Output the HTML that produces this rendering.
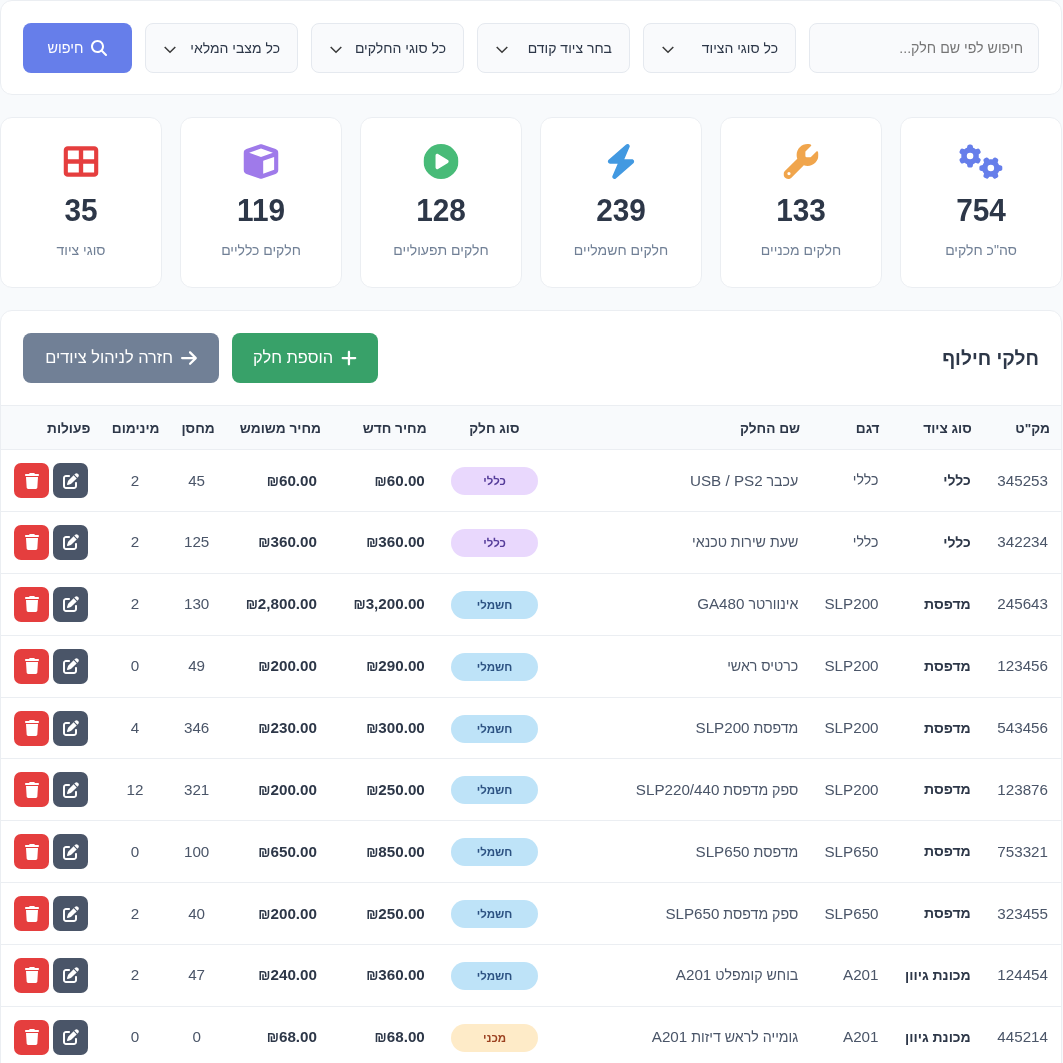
<!DOCTYPE html>
<html lang="he" dir="rtl">
<head>
<meta charset="utf-8">
<title>חלקי חילוף</title>
<style>
*{box-sizing:border-box;margin:0;padding:0}
html,body{width:1063px;height:1063px;overflow:hidden}
body{background:#f8fafc;font-family:"Liberation Sans",sans-serif;color:#2d3748;direction:rtl}
.wrap{width:1062px;position:absolute;left:0;top:0;will-change:transform}
.card{background:#fff;border:1px solid #ebeef2;border-radius:12px}
.filters{height:95px;position:relative}
.filters>*{position:absolute;top:22px;height:50px}
.inp{left:808px;width:230px;border:1px solid #e5e9ef;background:#f9fafc;border-radius:8px;font-size:14.2px;line-height:48px;padding:0 15px;color:#757575;white-space:nowrap}
.sel{width:153px;border:1px solid #e5e9ef;background:#f9fafc;border-radius:8px;font-size:14px;line-height:48px;padding-right:17px;color:#2d3748;white-space:nowrap}
.sel svg{position:absolute;left:18px;top:21.5px}
.s1{left:642px}.s2{left:476px}.s3{left:310px}.s4{left:144px}
.btn-search{left:22px;width:109px;border-radius:8px;background:#667eea;color:#fff;font-weight:normal;font-size:14.4px;display:flex;align-items:center;justify-content:center;gap:8px}
.stats{position:absolute;top:117px;left:0;width:1062px;height:171px}
.stat{position:absolute;top:0;width:162px;height:171px;text-align:center}
.stat .ic{position:absolute;top:26px;left:50%;transform:translateX(-50%);height:35px}
.stat .num{transform:scaleY(1.06);position:absolute;top:72.4px;left:0;right:0;font-weight:bold;font-size:29.8px;line-height:40px;color:#2d3748}
.stat .lbl{position:absolute;top:122px;left:0;right:0;font-size:14px;line-height:20px;color:#718096}
.tcard{position:absolute;top:310px;left:0;width:1062px;height:800px}
.ttl{position:absolute;top:34px;right:22px;font-size:19.2px;font-weight:bold;line-height:28px;color:#2d3748}
.btn{position:absolute;top:22px;height:50px;border-radius:8px;color:#fff;font-weight:normal;font-size:16.4px;display:flex;align-items:center;justify-content:center;gap:8px}
.btn-add{left:231px;width:146px;background:#38a169}
.btn-back{left:22px;width:196px;background:#718096}
table{position:absolute;top:93.5px;left:0;width:1060px;border-collapse:separate;border-spacing:0;table-layout:fixed}
th{height:45.7px;background:#f8fafc;font-size:13.7px;font-weight:bold;color:#2d3748;text-align:right;padding:2px 11px 0;border-top:1px solid #ebeef2;border-bottom:1px solid #ebeef2;white-space:nowrap}
td{height:61.86px;font-size:14.2px;color:#4a5568;text-align:right;padding:0 13px;border-bottom:1px solid #ebeef2;white-space:nowrap}
td.b{font-weight:bold;color:#2d3748;font-size:14px;padding-right:12px}
td.n,td .l{font-size:15.2px}
td.p{font-weight:bold;color:#2d3748;font-size:15.2px}
td.c,th.c{text-align:center}
td.a{padding:0;text-align:center;font-size:0}
.bdg{position:relative;top:.5px;display:inline-block;width:87px;height:28px;line-height:28px;border-radius:14px;text-align:center;font-size:11.5px;font-weight:bold}
.g{background:#e9d8fd;color:#553c9a}
.e{background:#bee3f8;color:#2c5282}
.m{background:#feebc8;color:#9c4221}
.act{display:inline-flex;width:35px;height:35px;border-radius:7px;align-items:center;justify-content:center;vertical-align:middle}
.ed{background:#4a5568}
.del{background:#e53e3e;margin-right:4px}
.c1{width:78px}.c2{width:92px}.c3{width:80px}.c4{width:260px}.c5{width:110px}.c6{width:107px}.c7{width:106px}.c8{width:55px}.c9{width:69px}.c10{width:100px}
.btn span{position:relative;top:-1px}
td.p1{padding-left:0;padding-right:14.5px}
td.p2{padding-left:0;padding-right:15px}
th.hp1{padding-right:12.7px}
th.hnm{padding-right:10.2px}
td.nm{padding-right:12px}
td.md{padding-right:12px}
td.st{padding-right:14.5px;padding-left:11.5px}
td.mn{padding-right:14px;padding-left:12px}
td.bd{padding-right:11.5px;padding-left:14.5px}
td.n,td.p,td.b,td.md,td.nm{padding-bottom:1px}
td.p .s{font-size:13.8px}
</style>
</head>
<body>
<div class="wrap">
<div class="card filters">
<div class="inp">חיפוש לפי שם חלק...</div>
<div class="sel s1">כל סוגי הציוד<svg width="12" height="8" viewBox="0 0 12 8"><path d="M0.7 1 L6 6.3 L11.3 1" fill="none" stroke="#3a3a3a" stroke-width="1.5"/></svg></div>
<div class="sel s2">בחר ציוד קודם<svg width="12" height="8" viewBox="0 0 12 8"><path d="M0.7 1 L6 6.3 L11.3 1" fill="none" stroke="#3a3a3a" stroke-width="1.5"/></svg></div>
<div class="sel s3">כל סוגי החלקים<svg width="12" height="8" viewBox="0 0 12 8"><path d="M0.7 1 L6 6.3 L11.3 1" fill="none" stroke="#3a3a3a" stroke-width="1.5"/></svg></div>
<div class="sel s4">כל מצבי המלאי<svg width="12" height="8" viewBox="0 0 12 8"><path d="M0.7 1 L6 6.3 L11.3 1" fill="none" stroke="#3a3a3a" stroke-width="1.5"/></svg></div>
<div class="btn-search"><svg width="16" height="16" viewBox="0 0 512 512"><path fill="#fff" d="M416 208c0 45.900-14.900 88.300-40 122.700L502.600 457.400c12.500 12.500 12.500 32.800 0 45.300s-32.800 12.500-45.300 0L330.700 376c-34.400 25.200-76.800 40-122.700 40C93.100 416 0 322.900 0 208S93.100 0 208 0S416 93.100 416 208zM208 352a144 144 0 1 0 0-288 144 144 0 1 0 0 288z"/></svg><span>חיפוש</span></div>
</div>
<div class="stats">
<div class="card stat" style="left:900px"><svg viewBox="0 0 640 512" class="ic ic-gears"><path fill="#667eea" d="M308.500 135.300c7.100-6.300 9.900-16.200 6.200-25c-2.300-5.300-4.800-10.500-7.600-15.500L304 89.400c-3-5-6.300-9.900-9.800-14.600c-5.700-7.600-15.700-10.100-24.700-7.100l-28.200 9.300c-10.700-8.800-23-16-36.200-20.900L199 27.100c-1.900-9.300-9.100-16.700-18.500-17.800C173.900 8.400 167.200 8 160.400 8h-.7c-6.800 0-13.500 .4-20.100 1.200c-9.400 1.100-16.600 8.600-18.500 17.800L115 56.100c-13.300 5-25.500 12.100-36.200 20.900L50.500 67.800c-9-3-19-.5-24.700 7.100c-3.500 4.700-6.800 9.600-9.900 14.600l-3 5.300c-2.800 5-5.300 10.200-7.600 15.600c-3.700 8.700-.9 18.600 6.200 25l22.200 19.800C32.600 161.900 32 168.900 32 176s.6 14.100 1.700 20.900L11.500 216.700c-7.100 6.300-9.900 16.200-6.200 25c2.300 5.300 4.800 10.500 7.600 15.600l3 5.200c3 5.100 6.300 9.900 9.900 14.600c5.700 7.600 15.700 10.100 24.700 7.100l28.200-9.300c10.700 8.800 23 16 36.200 20.900l6.100 29.100c1.900 9.300 9.100 16.700 18.500 17.800c6.700 .8 13.500 1.200 20.400 1.200s13.700-.4 20.400-1.200c9.400-1.100 16.600-8.600 18.500-17.800l6.100-29.100c13.300-5 25.500-12.100 36.200-20.900l28.200 9.300c9 3 19 .5 24.700-7.100c3.500-4.700 6.800-9.500 9.800-14.600l3.100-5.400c2.800-5 5.300-10.200 7.600-15.500c3.700-8.700 .9-18.600-6.200-25l-22.200-19.800c1.100-6.800 1.700-13.800 1.700-20.900s-.6-14.100-1.700-20.900l22.200-19.800zM112 176a48 48 0 1 1 96 0 48 48 0 1 1 -96 0zM504.700 500.500c6.300 7.100 16.200 9.900 25 6.200c5.300-2.300 10.500-4.800 15.500-7.600l5.400-3.100c5-3 9.900-6.300 14.600-9.800c7.600-5.700 10.100-15.700 7.100-24.700l-9.300-28.200c8.800-10.700 16-23 20.900-36.200l29.100-6.100c9.300-1.900 16.700-9.100 17.800-18.500c.8-6.700 1.200-13.500 1.200-20.400s-.4-13.700-1.200-20.400c-1.100-9.400-8.600-16.600-17.800-18.500L583.900 307c-5-13.300-12.100-25.500-20.900-36.200l9.300-28.200c3-9 .5-19-7.100-24.700c-4.700-3.500-9.600-6.800-14.600-9.900l-5.300-3c-5-2.800-10.200-5.300-15.600-7.600c-8.700-3.700-18.600-.9-25 6.200l-19.800 22.200c-6.800-1.100-13.800-1.700-20.900-1.700s-14.100 .6-20.900 1.700l-19.800-22.200c-6.300-7.100-16.200-9.900-25-6.200c-5.300 2.300-10.500 4.800-15.600 7.600l-5.200 3c-5.100 3-9.900 6.300-14.600 9.900c-7.600 5.700-10.100 15.700-7.100 24.700l9.300 28.200c-8.800 10.700-16 23-20.900 36.200L315.100 313c-9.300 1.900-16.700 9.100-17.800 18.500c-.8 6.700-1.200 13.500-1.200 20.400s.4 13.700 1.200 20.400c1.100 9.400 8.600 16.600 17.800 18.500l29.100 6.100c5 13.300 12.100 25.500 20.900 36.200l-9.300 28.200c-3 9-.5 19 7.100 24.700c4.700 3.500 9.500 6.800 14.600 9.800l5.400 3.100c5 2.800 10.200 5.300 15.500 7.600c8.700 3.700 18.600 .9 25-6.200l19.800-22.200c6.800 1.100 13.800 1.700 20.900 1.700s14.100-.6 20.900-1.700l19.800 22.200zM464 304a48 48 0 1 1 0 96 48 48 0 1 1 0-96z"/></svg><div class="num">754</div><div class="lbl">סה"כ חלקים</div></div>
<div class="card stat" style="left:720px"><svg viewBox="0 0 512 512" class="ic ic-wrench"><path fill="#f0a54c" d="M352 320c88.400 0 160-71.600 160-160c0-15.300-2.200-30.100-6.200-44.200c-3.100-10.800-16.400-13.200-24.300-5.300l-76.800 76.800c-3 3-7.100 4.700-11.300 4.700H336c-8.800 0-16-7.200-16-16V118.600c0-4.200 1.700-8.300 4.700-11.300l76.800-76.800c7.900-7.900 5.400-21.200-5.300-24.300C382.100 2.200 367.300 0 352 0C263.600 0 192 71.600 192 160c0 19.100 3.400 37.500 9.500 54.500L19.900 396.100C7.200 408.800 0 426.100 0 444.100C0 481.600 30.400 512 67.900 512c18 0 35.300-7.200 48-19.900L297.500 310.500c17 6.200 35.400 9.500 54.500 9.500zM80 408a24 24 0 1 1 0 48 24 24 0 1 1 0-48z"/></svg><div class="num">133</div><div class="lbl">חלקים מכניים</div></div>
<div class="card stat" style="left:540px"><svg viewBox="0 0 448 512" class="ic ic-bolt"><path fill="#4299e1" d="M349.400 44.600c5.900-13.700 1.500-29.700-10.600-38.500s-28.600-8-39.900 1.800l-256 224c-10 8.800-13.600 22.900-8.900 35.300S50.700 288 64 288H175.500L98.600 467.400c-5.900 13.700-1.500 29.700 10.600 38.500s28.600 8 39.900-1.800l256-224c10-8.800 13.600-22.900 8.900-35.300s-16.600-20.700-30-20.700H272.500L349.400 44.600z"/></svg><div class="num">239</div><div class="lbl">חלקים חשמליים</div></div>
<div class="card stat" style="left:360px"><svg viewBox="0 0 512 512" class="ic ic-play"><path fill="#48bb78" d="M0 256a256 256 0 1 1 512 0A256 256 0 1 1 0 256zM188.300 147.100c-7.600 4.200-12.300 12.300-12.300 20.900V344c0 8.700 4.700 16.700 12.300 20.900s16.800 4.100 24.300-.5l144-88c7.100-4.400 11.500-12.100 11.500-20.500s-4.400-16.100-11.500-20.500l-144-88c-7.400-4.500-16.700-4.700-24.300-.5z"/></svg><div class="num">128</div><div class="lbl">חלקים תפעוליים</div></div>
<div class="card stat" style="left:180px"><svg viewBox="0 0 512 512" class="ic ic-cube"><path fill="#9f7aea" d="M234.500 5.700c13.900-5 29.100-5 43.100 0l192 68.600C495 83.400 512 107.500 512 134.600V377.400c0 27-17 51.200-42.500 60.300l-192 68.600c-13.900 5-29.100 5-43.100 0l-192-68.600C17 428.600 0 404.500 0 377.400V134.600c0-27 17-51.200 42.500-60.300l192-68.600zM256 66L82.300 128 256 190l173.700-62L256 66zm32 368.600l160-57.100v-188L288 246.600v188z"/></svg><div class="num">119</div><div class="lbl">חלקים כלליים</div></div>
<div class="card stat" style="left:0px"><svg viewBox="0 0 512 512" class="ic ic-table"><path fill="#e53e3e" d="M448 96V224H288V96H448zm0 192V416H288V288H448zM224 224H64V96H224V224zM64 288H224V416H64V288zM64 32C28.700 32 0 60.700 0 96V416c0 35.300 28.700 64 64 64H448c35.300 0 64-28.700 64-64V96c0-35.300-28.700-64-64-64H64z"/></svg><div class="num">35</div><div class="lbl">סוגי ציוד</div></div>
</div>
<div class="card tcard">
<div class="ttl">חלקי חילוף</div>
<div class="btn btn-add"><svg width="15.9" height="18.2" viewBox="0 0 448 512"><path fill="#fff" d="M256 80c0-17.700-14.300-32-32-32s-32 14.300-32 32V224H48c-17.700 0-32 14.300-32 32s14.300 32 32 32H192V432c0 17.700 14.300 32 32 32s32-14.300 32-32V288H400c17.700 0 32-14.300 32-32s-14.300-32-32-32H256V80z"/></svg><span>הוספת חלק</span></div>
<div class="btn btn-back"><svg width="15.9" height="18.2" viewBox="0 0 448 512"><path fill="#fff" d="M438.600 278.600c12.500-12.500 12.500-32.800 0-45.300l-160-160c-12.500-12.500-32.800-12.500-45.300 0s-12.500 32.800 0 45.300L338.800 224 32 224c-17.700 0-32 14.300-32 32s14.300 32 32 32l306.700 0L233.400 393.400c-12.500 12.500-12.500 32.800 0 45.300s32.800 12.500 45.300 0l160-160z"/></svg><span>חזרה לניהול ציודים</span></div>
<table>
<colgroup><col class="c1"><col class="c2"><col class="c3"><col class="c4"><col class="c5"><col class="c6"><col class="c7"><col class="c8"><col class="c9"><col class="c10"></colgroup>
<thead><tr><th>מק"ט</th><th>סוג ציוד</th><th>דגם</th><th class="hnm">שם החלק</th><th class="c">סוג חלק</th><th class="hp1">מחיר חדש</th><th>מחיר משומש</th><th class="c">מחסן</th><th class="c">מינימום</th><th>פעולות</th></tr></thead>
<tbody>
<tr><td class="n">345253</td><td class="b">כללי</td><td class="md">כללי</td><td class="nm">עכבר <span class="l">USB / PS2</span></td><td class="c bd"><span class="bdg g">כללי</span></td><td class="p p1"><span class="s">₪</span>60.00</td><td class="p p2"><span class="s">₪</span>60.00</td><td class="c n st">45</td><td class="c n mn">2</td><td class="a"><span class="act ed"><svg width="16" height="16" viewBox="0 0 512 512"><path fill="#fff" d="M471.600 21.700c-21.900-21.900-57.300-21.900-79.200 0L362.300 51.700l97.900 97.900 30.100-30.100c21.900-21.900 21.900-57.300 0-79.200L471.600 21.700zm-299.200 220c-6.100 6.100-10.800 13.600-13.500 21.900l-29.600 88.800c-2.900 8.600-.6 18.100 5.800 24.600s15.900 8.700 24.600 5.800l88.800-29.600c8.200-2.700 15.700-7.400 21.900-13.500L437.700 172.300 339.700 74.300 172.400 241.700zM96 64C43 64 0 107 0 160V416c0 53 43 96 96 96H352c53 0 96-43 96-96V320c0-17.700-14.300-32-32-32s-32 14.300-32 32v96c0 17.700-14.300 32-32 32H96c-17.700 0-32-14.300-32-32V160c0-17.700 14.300-32 32-32h96c17.700 0 32-14.300 32-32s-14.300-32-32-32H96z"/></svg></span><span class="act del"><svg width="14" height="16" viewBox="0 0 448 512"><path fill="#fff" d="M135.200 17.700L128 32H32C14.300 32 0 46.300 0 64S14.300 96 32 96H416c17.700 0 32-14.300 32-32s-14.300-32-32-32H320l-7.200-14.300C307.400 6.800 296.300 0 284.200 0H163.800c-12.100 0-23.200 6.800-28.600 17.700zM416 128H32L53.200 467c1.600 25.300 22.600 45 47.900 45H346.900c25.300 0 46.300-19.700 47.900-45L416 128z"/></svg></span></td></tr>
<tr><td class="n">342234</td><td class="b">כללי</td><td class="md">כללי</td><td class="nm">שעת שירות טכנאי</td><td class="c bd"><span class="bdg g">כללי</span></td><td class="p p1"><span class="s">₪</span>360.00</td><td class="p p2"><span class="s">₪</span>360.00</td><td class="c n st">125</td><td class="c n mn">2</td><td class="a"><span class="act ed"><svg width="16" height="16" viewBox="0 0 512 512"><path fill="#fff" d="M471.600 21.700c-21.900-21.900-57.300-21.900-79.200 0L362.300 51.700l97.900 97.900 30.100-30.100c21.900-21.900 21.900-57.300 0-79.200L471.600 21.700zm-299.200 220c-6.100 6.100-10.800 13.600-13.500 21.900l-29.600 88.800c-2.900 8.600-.6 18.100 5.800 24.600s15.900 8.700 24.600 5.800l88.800-29.600c8.200-2.700 15.700-7.400 21.900-13.500L437.700 172.300 339.700 74.300 172.400 241.700zM96 64C43 64 0 107 0 160V416c0 53 43 96 96 96H352c53 0 96-43 96-96V320c0-17.700-14.300-32-32-32s-32 14.300-32 32v96c0 17.700-14.300 32-32 32H96c-17.700 0-32-14.300-32-32V160c0-17.700 14.300-32 32-32h96c17.700 0 32-14.300 32-32s-14.300-32-32-32H96z"/></svg></span><span class="act del"><svg width="14" height="16" viewBox="0 0 448 512"><path fill="#fff" d="M135.200 17.700L128 32H32C14.300 32 0 46.300 0 64S14.300 96 32 96H416c17.700 0 32-14.300 32-32s-14.300-32-32-32H320l-7.200-14.300C307.400 6.800 296.300 0 284.200 0H163.800c-12.100 0-23.200 6.800-28.600 17.700zM416 128H32L53.200 467c1.600 25.300 22.600 45 47.900 45H346.900c25.300 0 46.300-19.700 47.900-45L416 128z"/></svg></span></td></tr>
<tr><td class="n">245643</td><td class="b">מדפסת</td><td class="md"><span class="l">SLP200</span></td><td class="nm">אינוורטר <span class="l">GA480</span></td><td class="c bd"><span class="bdg e">חשמלי</span></td><td class="p p1"><span class="s">₪</span>3,200.00</td><td class="p p2"><span class="s">₪</span>2,800.00</td><td class="c n st">130</td><td class="c n mn">2</td><td class="a"><span class="act ed"><svg width="16" height="16" viewBox="0 0 512 512"><path fill="#fff" d="M471.600 21.700c-21.900-21.900-57.300-21.900-79.200 0L362.300 51.700l97.900 97.900 30.100-30.100c21.900-21.900 21.900-57.300 0-79.200L471.600 21.700zm-299.200 220c-6.100 6.100-10.800 13.600-13.500 21.900l-29.600 88.800c-2.900 8.600-.6 18.100 5.800 24.600s15.900 8.700 24.600 5.800l88.800-29.600c8.200-2.700 15.700-7.400 21.900-13.500L437.700 172.300 339.700 74.300 172.400 241.700zM96 64C43 64 0 107 0 160V416c0 53 43 96 96 96H352c53 0 96-43 96-96V320c0-17.700-14.300-32-32-32s-32 14.300-32 32v96c0 17.700-14.300 32-32 32H96c-17.700 0-32-14.300-32-32V160c0-17.700 14.300-32 32-32h96c17.700 0 32-14.300 32-32s-14.300-32-32-32H96z"/></svg></span><span class="act del"><svg width="14" height="16" viewBox="0 0 448 512"><path fill="#fff" d="M135.200 17.700L128 32H32C14.300 32 0 46.300 0 64S14.300 96 32 96H416c17.700 0 32-14.300 32-32s-14.300-32-32-32H320l-7.200-14.300C307.400 6.800 296.300 0 284.200 0H163.800c-12.100 0-23.200 6.800-28.600 17.700zM416 128H32L53.200 467c1.600 25.300 22.600 45 47.900 45H346.900c25.300 0 46.300-19.700 47.900-45L416 128z"/></svg></span></td></tr>
<tr><td class="n">123456</td><td class="b">מדפסת</td><td class="md"><span class="l">SLP200</span></td><td class="nm">כרטיס ראשי</td><td class="c bd"><span class="bdg e">חשמלי</span></td><td class="p p1"><span class="s">₪</span>290.00</td><td class="p p2"><span class="s">₪</span>200.00</td><td class="c n st">49</td><td class="c n mn">0</td><td class="a"><span class="act ed"><svg width="16" height="16" viewBox="0 0 512 512"><path fill="#fff" d="M471.600 21.700c-21.900-21.900-57.300-21.900-79.200 0L362.300 51.700l97.900 97.900 30.100-30.100c21.900-21.900 21.900-57.300 0-79.200L471.600 21.700zm-299.200 220c-6.100 6.100-10.800 13.600-13.500 21.900l-29.600 88.800c-2.900 8.600-.6 18.100 5.800 24.600s15.900 8.700 24.600 5.800l88.800-29.600c8.200-2.700 15.700-7.400 21.900-13.500L437.700 172.300 339.700 74.300 172.400 241.700zM96 64C43 64 0 107 0 160V416c0 53 43 96 96 96H352c53 0 96-43 96-96V320c0-17.700-14.300-32-32-32s-32 14.300-32 32v96c0 17.700-14.300 32-32 32H96c-17.700 0-32-14.300-32-32V160c0-17.700 14.300-32 32-32h96c17.700 0 32-14.300 32-32s-14.300-32-32-32H96z"/></svg></span><span class="act del"><svg width="14" height="16" viewBox="0 0 448 512"><path fill="#fff" d="M135.200 17.700L128 32H32C14.300 32 0 46.300 0 64S14.300 96 32 96H416c17.700 0 32-14.300 32-32s-14.300-32-32-32H320l-7.200-14.300C307.400 6.800 296.300 0 284.200 0H163.800c-12.100 0-23.200 6.800-28.600 17.700zM416 128H32L53.200 467c1.600 25.300 22.600 45 47.900 45H346.900c25.300 0 46.300-19.700 47.900-45L416 128z"/></svg></span></td></tr>
<tr><td class="n">543456</td><td class="b">מדפסת</td><td class="md"><span class="l">SLP200</span></td><td class="nm">מדפסת <span class="l">SLP200</span></td><td class="c bd"><span class="bdg e">חשמלי</span></td><td class="p p1"><span class="s">₪</span>300.00</td><td class="p p2"><span class="s">₪</span>230.00</td><td class="c n st">346</td><td class="c n mn">4</td><td class="a"><span class="act ed"><svg width="16" height="16" viewBox="0 0 512 512"><path fill="#fff" d="M471.600 21.700c-21.900-21.900-57.300-21.900-79.200 0L362.300 51.700l97.900 97.900 30.100-30.100c21.900-21.900 21.900-57.300 0-79.200L471.600 21.700zm-299.200 220c-6.100 6.100-10.800 13.600-13.500 21.900l-29.600 88.800c-2.900 8.600-.6 18.100 5.800 24.600s15.900 8.700 24.600 5.800l88.800-29.600c8.200-2.700 15.700-7.400 21.900-13.500L437.700 172.300 339.700 74.300 172.400 241.700zM96 64C43 64 0 107 0 160V416c0 53 43 96 96 96H352c53 0 96-43 96-96V320c0-17.700-14.300-32-32-32s-32 14.300-32 32v96c0 17.700-14.300 32-32 32H96c-17.700 0-32-14.300-32-32V160c0-17.700 14.300-32 32-32h96c17.700 0 32-14.300 32-32s-14.300-32-32-32H96z"/></svg></span><span class="act del"><svg width="14" height="16" viewBox="0 0 448 512"><path fill="#fff" d="M135.200 17.700L128 32H32C14.300 32 0 46.300 0 64S14.300 96 32 96H416c17.700 0 32-14.300 32-32s-14.300-32-32-32H320l-7.200-14.300C307.400 6.800 296.300 0 284.200 0H163.800c-12.100 0-23.200 6.800-28.600 17.700zM416 128H32L53.200 467c1.600 25.300 22.600 45 47.900 45H346.900c25.300 0 46.300-19.700 47.900-45L416 128z"/></svg></span></td></tr>
<tr><td class="n">123876</td><td class="b">מדפסת</td><td class="md"><span class="l">SLP200</span></td><td class="nm">ספק מדפסת <span class="l">SLP220/440</span></td><td class="c bd"><span class="bdg e">חשמלי</span></td><td class="p p1"><span class="s">₪</span>250.00</td><td class="p p2"><span class="s">₪</span>200.00</td><td class="c n st">321</td><td class="c n mn">12</td><td class="a"><span class="act ed"><svg width="16" height="16" viewBox="0 0 512 512"><path fill="#fff" d="M471.600 21.700c-21.900-21.900-57.300-21.900-79.200 0L362.300 51.700l97.900 97.900 30.100-30.100c21.900-21.900 21.900-57.300 0-79.200L471.600 21.700zm-299.200 220c-6.100 6.100-10.800 13.600-13.500 21.900l-29.600 88.800c-2.900 8.600-.6 18.100 5.800 24.600s15.900 8.700 24.600 5.800l88.800-29.600c8.200-2.700 15.700-7.400 21.900-13.500L437.700 172.300 339.700 74.300 172.400 241.700zM96 64C43 64 0 107 0 160V416c0 53 43 96 96 96H352c53 0 96-43 96-96V320c0-17.700-14.300-32-32-32s-32 14.300-32 32v96c0 17.700-14.300 32-32 32H96c-17.700 0-32-14.300-32-32V160c0-17.700 14.300-32 32-32h96c17.700 0 32-14.300 32-32s-14.300-32-32-32H96z"/></svg></span><span class="act del"><svg width="14" height="16" viewBox="0 0 448 512"><path fill="#fff" d="M135.200 17.700L128 32H32C14.300 32 0 46.300 0 64S14.300 96 32 96H416c17.700 0 32-14.300 32-32s-14.300-32-32-32H320l-7.200-14.300C307.400 6.800 296.300 0 284.200 0H163.800c-12.100 0-23.200 6.800-28.600 17.700zM416 128H32L53.200 467c1.600 25.300 22.600 45 47.900 45H346.900c25.300 0 46.300-19.700 47.900-45L416 128z"/></svg></span></td></tr>
<tr><td class="n">753321</td><td class="b">מדפסת</td><td class="md"><span class="l">SLP650</span></td><td class="nm">מדפסת <span class="l">SLP650</span></td><td class="c bd"><span class="bdg e">חשמלי</span></td><td class="p p1"><span class="s">₪</span>850.00</td><td class="p p2"><span class="s">₪</span>650.00</td><td class="c n st">100</td><td class="c n mn">0</td><td class="a"><span class="act ed"><svg width="16" height="16" viewBox="0 0 512 512"><path fill="#fff" d="M471.600 21.700c-21.900-21.900-57.300-21.900-79.200 0L362.300 51.700l97.900 97.900 30.100-30.100c21.900-21.900 21.900-57.300 0-79.200L471.600 21.700zm-299.200 220c-6.100 6.100-10.800 13.600-13.500 21.900l-29.600 88.800c-2.900 8.600-.6 18.100 5.800 24.600s15.900 8.700 24.600 5.800l88.800-29.600c8.200-2.700 15.700-7.400 21.900-13.500L437.700 172.300 339.700 74.300 172.400 241.700zM96 64C43 64 0 107 0 160V416c0 53 43 96 96 96H352c53 0 96-43 96-96V320c0-17.700-14.300-32-32-32s-32 14.300-32 32v96c0 17.700-14.300 32-32 32H96c-17.700 0-32-14.300-32-32V160c0-17.700 14.300-32 32-32h96c17.700 0 32-14.300 32-32s-14.300-32-32-32H96z"/></svg></span><span class="act del"><svg width="14" height="16" viewBox="0 0 448 512"><path fill="#fff" d="M135.200 17.700L128 32H32C14.300 32 0 46.300 0 64S14.300 96 32 96H416c17.700 0 32-14.300 32-32s-14.300-32-32-32H320l-7.200-14.300C307.400 6.800 296.300 0 284.200 0H163.800c-12.100 0-23.200 6.800-28.600 17.700zM416 128H32L53.200 467c1.600 25.300 22.600 45 47.900 45H346.900c25.300 0 46.300-19.700 47.900-45L416 128z"/></svg></span></td></tr>
<tr><td class="n">323455</td><td class="b">מדפסת</td><td class="md"><span class="l">SLP650</span></td><td class="nm">ספק מדפסת <span class="l">SLP650</span></td><td class="c bd"><span class="bdg e">חשמלי</span></td><td class="p p1"><span class="s">₪</span>250.00</td><td class="p p2"><span class="s">₪</span>200.00</td><td class="c n st">40</td><td class="c n mn">2</td><td class="a"><span class="act ed"><svg width="16" height="16" viewBox="0 0 512 512"><path fill="#fff" d="M471.600 21.700c-21.900-21.900-57.300-21.900-79.200 0L362.300 51.700l97.900 97.900 30.100-30.100c21.900-21.900 21.900-57.300 0-79.200L471.600 21.700zm-299.200 220c-6.100 6.100-10.800 13.600-13.500 21.900l-29.600 88.800c-2.900 8.600-.6 18.100 5.800 24.600s15.900 8.700 24.600 5.800l88.800-29.600c8.200-2.700 15.700-7.400 21.900-13.500L437.700 172.300 339.700 74.300 172.400 241.700zM96 64C43 64 0 107 0 160V416c0 53 43 96 96 96H352c53 0 96-43 96-96V320c0-17.700-14.300-32-32-32s-32 14.300-32 32v96c0 17.700-14.300 32-32 32H96c-17.700 0-32-14.300-32-32V160c0-17.700 14.300-32 32-32h96c17.700 0 32-14.300 32-32s-14.300-32-32-32H96z"/></svg></span><span class="act del"><svg width="14" height="16" viewBox="0 0 448 512"><path fill="#fff" d="M135.200 17.700L128 32H32C14.300 32 0 46.300 0 64S14.300 96 32 96H416c17.700 0 32-14.300 32-32s-14.300-32-32-32H320l-7.200-14.300C307.400 6.800 296.300 0 284.200 0H163.800c-12.100 0-23.200 6.800-28.600 17.700zM416 128H32L53.200 467c1.600 25.300 22.600 45 47.900 45H346.900c25.300 0 46.300-19.700 47.900-45L416 128z"/></svg></span></td></tr>
<tr><td class="n">124454</td><td class="b">מכונת גיוון</td><td class="md"><span class="l">A201</span></td><td class="nm">בוחש קומפלט <span class="l">A201</span></td><td class="c bd"><span class="bdg e">חשמלי</span></td><td class="p p1"><span class="s">₪</span>360.00</td><td class="p p2"><span class="s">₪</span>240.00</td><td class="c n st">47</td><td class="c n mn">2</td><td class="a"><span class="act ed"><svg width="16" height="16" viewBox="0 0 512 512"><path fill="#fff" d="M471.600 21.700c-21.900-21.900-57.300-21.900-79.200 0L362.300 51.700l97.900 97.900 30.100-30.100c21.900-21.900 21.900-57.300 0-79.200L471.600 21.700zm-299.200 220c-6.100 6.100-10.800 13.600-13.500 21.900l-29.600 88.800c-2.900 8.600-.6 18.100 5.800 24.600s15.900 8.700 24.600 5.800l88.800-29.600c8.200-2.700 15.700-7.400 21.900-13.500L437.700 172.300 339.700 74.300 172.400 241.700zM96 64C43 64 0 107 0 160V416c0 53 43 96 96 96H352c53 0 96-43 96-96V320c0-17.700-14.300-32-32-32s-32 14.300-32 32v96c0 17.700-14.300 32-32 32H96c-17.700 0-32-14.300-32-32V160c0-17.700 14.300-32 32-32h96c17.700 0 32-14.300 32-32s-14.300-32-32-32H96z"/></svg></span><span class="act del"><svg width="14" height="16" viewBox="0 0 448 512"><path fill="#fff" d="M135.200 17.700L128 32H32C14.300 32 0 46.300 0 64S14.300 96 32 96H416c17.700 0 32-14.300 32-32s-14.300-32-32-32H320l-7.200-14.300C307.400 6.800 296.300 0 284.200 0H163.800c-12.100 0-23.200 6.800-28.600 17.700zM416 128H32L53.200 467c1.600 25.300 22.600 45 47.900 45H346.900c25.300 0 46.300-19.700 47.900-45L416 128z"/></svg></span></td></tr>
<tr><td class="n">445214</td><td class="b">מכונת גיוון</td><td class="md"><span class="l">A201</span></td><td class="nm">גומייה לראש דיזות <span class="l">A201</span></td><td class="c bd"><span class="bdg m">מכני</span></td><td class="p p1"><span class="s">₪</span>68.00</td><td class="p p2"><span class="s">₪</span>68.00</td><td class="c n st">0</td><td class="c n mn">0</td><td class="a"><span class="act ed"><svg width="16" height="16" viewBox="0 0 512 512"><path fill="#fff" d="M471.600 21.700c-21.900-21.900-57.300-21.900-79.200 0L362.300 51.700l97.900 97.900 30.100-30.100c21.900-21.900 21.900-57.300 0-79.200L471.600 21.700zm-299.200 220c-6.100 6.100-10.800 13.600-13.500 21.900l-29.600 88.800c-2.900 8.600-.6 18.100 5.800 24.600s15.900 8.700 24.600 5.800l88.800-29.600c8.200-2.700 15.700-7.400 21.900-13.500L437.700 172.300 339.700 74.300 172.400 241.700zM96 64C43 64 0 107 0 160V416c0 53 43 96 96 96H352c53 0 96-43 96-96V320c0-17.700-14.300-32-32-32s-32 14.300-32 32v96c0 17.700-14.300 32-32 32H96c-17.700 0-32-14.300-32-32V160c0-17.700 14.300-32 32-32h96c17.700 0 32-14.300 32-32s-14.300-32-32-32H96z"/></svg></span><span class="act del"><svg width="14" height="16" viewBox="0 0 448 512"><path fill="#fff" d="M135.200 17.700L128 32H32C14.300 32 0 46.300 0 64S14.300 96 32 96H416c17.700 0 32-14.300 32-32s-14.300-32-32-32H320l-7.200-14.300C307.400 6.800 296.300 0 284.200 0H163.800c-12.100 0-23.200 6.800-28.600 17.700zM416 128H32L53.200 467c1.600 25.300 22.600 45 47.900 45H346.900c25.300 0 46.300-19.700 47.900-45L416 128z"/></svg></span></td></tr>
</tbody></table>
</div>
</div>
</body>
</html>
